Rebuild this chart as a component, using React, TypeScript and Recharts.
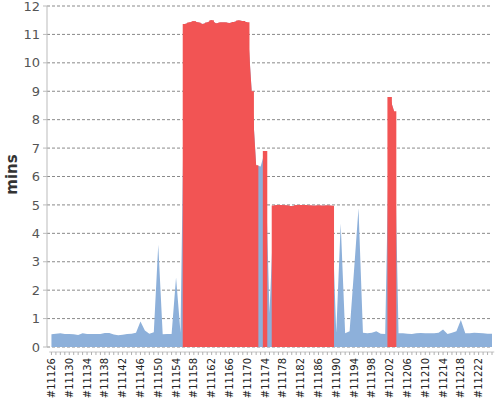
import { Area, AreaChart, CartesianGrid, XAxis, YAxis } from "recharts";

// build numbers along the x axis, one point per build
const buildIds = [
  11126, 11127, 11128, 11129, 11130, 11131, 11132, 11133, 11134, 11135,
  11136, 11137, 11138, 11139, 11140, 11141, 11142, 11143, 11144, 11145,
  11146, 11147, 11148, 11149, 11150, 11151, 11152, 11153, 11154, 11155,
  11156, 11157, 11158, 11159, 11160, 11161, 11162, 11163, 11164, 11165,
  11166, 11167, 11168, 11169, 11170, 11171, 11172, 11173, 11174, 11175,
  11176, 11177, 11178, 11179, 11180, 11181, 11182, 11183, 11184, 11185,
  11186, 11187, 11188, 11189, 11190, 11191, 11192, 11193, 11194, 11195,
  11196, 11197, 11198, 11199, 11200, 11201, 11202, 11203, 11204, 11205,
  11206, 11207, 11208, 11209, 11210, 11211, 11212, 11213, 11214, 11215,
  11216, 11217, 11218, 11219, 11220, 11221, 11222, 11223, 11224, 11225,
];

// build duration in minutes, same order as buildIds
const durations = [
  0.45, 0.47, 0.48, 0.46, 0.46, 0.45, 0.42, 0.48, 0.46, 0.46,
  0.46, 0.46, 0.49, 0.49, 0.44, 0.41, 0.43, 0.46, 0.47, 0.5,
  0.9, 0.58, 0.47, 0.52, 3.6, 0.45, 0.46, 0.46, 2.45, 0.5,
  11.37, 11.42, 11.46, 11.42, 11.37, 11.42, 11.5, 11.38, 11.42, 11.42,
  11.4, 11.44, 11.49, 11.47, 11.43, 9.0, 6.4, 6.35, 6.9, 1.2,
  4.98, 5.0, 4.99, 4.98, 4.95, 4.99, 5.0, 5.0, 4.98, 4.97,
  4.98, 4.97, 4.98, 4.97, 0.5, 4.35, 0.48, 0.55, 2.7, 4.88,
  0.5, 0.48, 0.5, 0.55, 0.47, 0.46, 8.8, 8.3, 0.48, 0.48,
  0.47, 0.46, 0.48, 0.49, 0.48, 0.48, 0.48, 0.5, 0.62, 0.46,
  0.5, 0.55, 0.95, 0.48, 0.48, 0.5, 0.49, 0.48, 0.47, 0.47,
];

// builds that failed, painted red over the blue
const failedBuilds = [
  11156, 11157, 11158, 11159, 11160, 11161, 11162, 11163, 11164, 11165,
  11166, 11167, 11168, 11169, 11170, 11171, 11172, 11174, 11176, 11177,
  11178, 11179, 11180, 11181, 11182, 11183, 11184, 11185, 11186, 11187,
  11188, 11189, 11202, 11203,
];

// builds that get a label under the axis
const labelledBuilds = [
  11126, 11130, 11134, 11138, 11142, 11146, 11150, 11154, 11158, 11162,
  11166, 11170, 11174, 11178, 11182, 11186, 11190, 11194, 11198, 11202,
  11206, 11210, 11214, 11218, 11222,
];

const minuteTicks = [0, 1, 2, 3, 4, 5, 6, 7, 8, 9, 10, 11, 12];

const BLUE = "#8DB0DA";
const RED = "#F25454";

const data = buildIds.map((id, i) => {
  const failed = failedBuilds.includes(id);
  return {
    id,
    mins: durations[i],
    // step version gives the hard edges, line version keeps the slopes
    failed: failed ? durations[i] : 0,
    failedLine: failed ? durations[i] : null,
  };
});

function renderBuildTick(props: any) {
  const { x, y, payload } = props;
  const id = payload.value as number;
  const tx = x + 3.5;
  const ty = y + 11;
  return (
    <g>
      <line x1={x - 2.25} x2={x + 2.25} y1={y + 5} y2={y + 5} stroke="#c4c4c4" />
      <line x1={x} x2={x} y1={y + 5} y2={y + 8} stroke="#b0b0b0" />
      {labelledBuilds.includes(id) && (
        <text
          x={tx}
          y={ty}
          transform={`rotate(-90 ${tx} ${ty})`}
          textAnchor="end"
          fontSize={10}
          fill="#222"
        >
          #{id}
        </text>
      )}
    </g>
  );
}

function MinsTitle(props: any) {
  const vb = props.viewBox ?? { x: 0, y: 6, width: 47, height: 341 };
  const x = vb.x + 17;
  const y = vb.y + vb.height / 2 - 2;
  return (
    <text
      x={x}
      y={y}
      transform={`rotate(-90 ${x} ${y})`}
      textAnchor="middle"
      fontSize={15}
      fontWeight="bold"
      fill="#333"
    >
      mins
    </text>
  );
}

export default function App() {
  return (
    <div style={{ position: "absolute", left: 0, top: 0 }}>
      <AreaChart
        width={500}
        height={400}
        data={data}
        margin={{ top: 6, right: 8, bottom: 0, left: 0 }}
        style={{ fontFamily: "'DejaVu Sans', sans-serif" }}
      >
        <CartesianGrid vertical={false} stroke="#8a8a8a" strokeDasharray="3 2" />
        <XAxis
          dataKey="id"
          type="number"
          domain={[11125, 11225]}
          ticks={buildIds}
          interval={0}
          tickSize={0}
          tickMargin={0}
          axisLine={false}
          tickLine={false}
          height={53}
          tick={renderBuildTick}
          allowDataOverflow
        />
        <YAxis
          width={47}
          domain={[0, 12]}
          ticks={minuteTicks}
          interval={0}
          tickSize={4}
          tickMargin={3}
          axisLine={{ stroke: "#bbb" }}
          tickLine={{ stroke: "#bbb" }}
          tick={{ fill: "#555", fontSize: 13 }}
          label={{ content: MinsTitle }}
        />
        <Area
          type="linear"
          dataKey="mins"
          stroke="none"
          fill={BLUE}
          fillOpacity={1}
          isAnimationActive={false}
        />
        <Area
          type="step"
          dataKey="failed"
          stroke="none"
          fill={RED}
          fillOpacity={1}
          isAnimationActive={false}
        />
        <Area
          type="linear"
          dataKey="failedLine"
          stroke="none"
          fill={RED}
          fillOpacity={1}
          isAnimationActive={false}
        />
      </AreaChart>
    </div>
  );
}
